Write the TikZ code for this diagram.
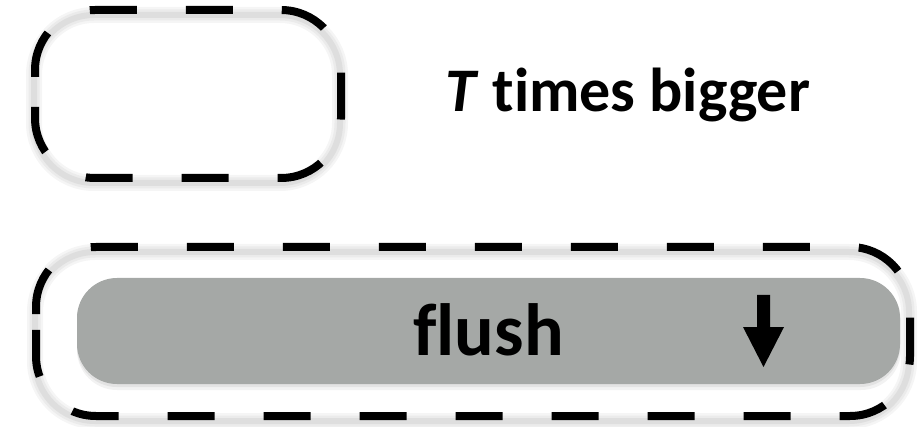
\documentclass[tikz,border=0pt]{standalone}
\usepackage{fontspec}
\setmainfont{Carlito}[Ligatures={NoCommon,NoRare,NoContextual}]
\definecolor{barfill}{RGB}{165,168,166}
\tikzset{
  dashbox/.style={draw=black, line width=8pt, dash pattern=on 47pt off 49pt},
  shadowA/.style={draw=black!4, line width=16pt},
  shadowB/.style={draw=black!8, line width=11pt},
  shadowC/.style={draw=black!13, line width=6pt},
  lbl/.style={anchor=base west, inner sep=0pt, font=\bfseries}
}
% rounded box path starting on the left side, going clockwise: #2 left, #3 top, #4 right, #5 bottom
\newcommand\rbox[5][]{%
  \draw[#1] (#2,{#3+67}) -- (#2,{#3+60}) arc[start angle=180,end angle=270,radius=60]
    -- ({#4-60},#3) arc[start angle=270,end angle=360,radius=60]
    -- (#4,{#5-60}) arc[start angle=0,end angle=90,radius=60]
    -- ({#2+60},#5) arc[start angle=90,end angle=180,radius=60]
    -- cycle;}
\begin{document}
\begin{tikzpicture}[x=1pt,y=-1pt]
\useasboundingbox (0,0) rectangle (920,427);
% soft shadows
\begin{scope}[yshift=-5pt,xshift=-1pt]
\rbox[shadowA]{35}{10}{341}{178}
\rbox[shadowB]{35}{10}{341}{178}
\rbox[shadowC]{35}{10}{341}{178}
\rbox[shadowA]{36}{247}{910}{416}
\rbox[shadowB]{36}{247}{910}{416}
\rbox[shadowC]{36}{247}{910}{416}
\end{scope}
% dashed outlines
\rbox[dashbox]{35}{10}{341}{178}
\rbox[dashbox]{36}{247}{910}{416}
% inner bar
\fill[black!5, rounded corners=40pt] (77,280) rectangle (901,390);
\fill[black!11, rounded corners=40pt] (77,279) rectangle (900,387);
\fill[barfill, rounded corners=40pt] (77,278) rectangle (900,384);
% texts
\node[lbl, font=\bfseries\fontsize{62}{72}\selectfont] (tb) at (445,112) {\textit{T} times bigger};
\node[lbl, font=\bfseries\fontsize{74}{84}\selectfont] (fl) at (413,355) {flush};
% arrow
\fill[black] (757,295) -- (770,295) -- (770,327) -- (784,327) -- (763.5,367) -- (743,327) -- (757,327) -- cycle;
\end{tikzpicture}
\end{document}
